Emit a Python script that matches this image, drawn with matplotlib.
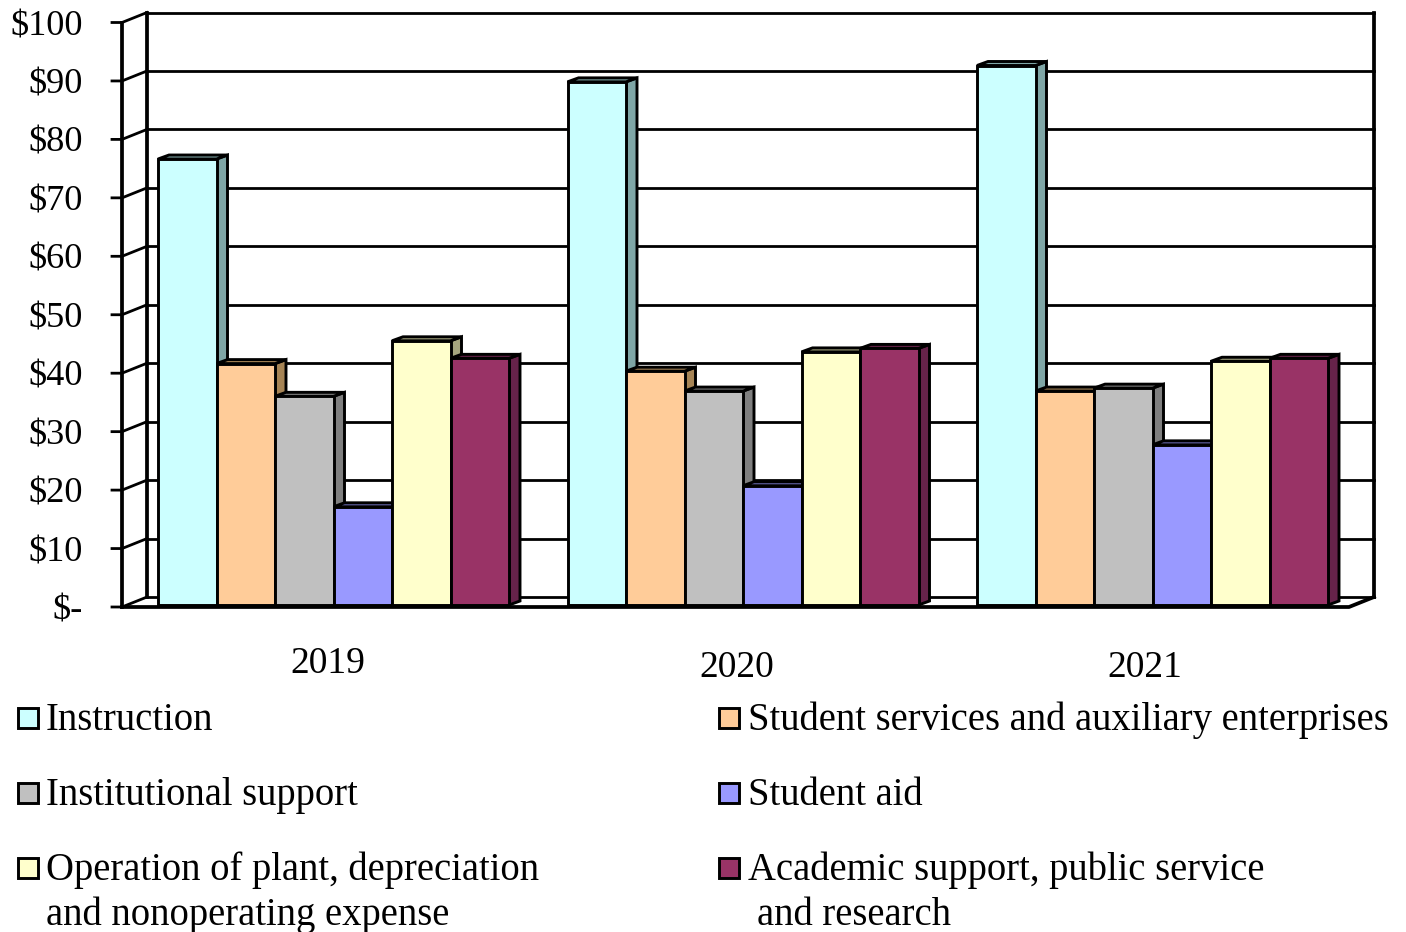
import matplotlib
matplotlib.use('Agg')
import matplotlib.pyplot as plt
from matplotlib.patches import Polygon, Rectangle
from matplotlib.transforms import Affine2D

years = ['2019', '2020', '2021']
categories = ['Instruction', 'Student services and auxiliary enterprises',
	'Institutional support', 'Student aid',
	'Operation of plant, depreciation\nand nonoperating expense',
	'Academic support, public service\n and research']
instruction = [76.3, 89.5, 92.3]
student_services = [41.3, 40.0, 36.6]
institutional = [35.7, 36.6, 37.1]
student_aid = [16.8, 20.4, 27.4]
operation = [45.2, 43.3, 41.7]
academic = [42.2, 43.9, 42.2]
series = [instruction, student_services, institutional, student_aid, operation, academic]
ticks = [0, 10, 20, 30, 40, 50, 60, 70, 80, 90, 100]
tick_labels = ['$-', '$10', '$20', '$30', '$40', '$50', '$60', '$70', '$80', '$90', '$100']

colors = ['#CCFFFF', '#FFCC99', '#C0C0C0', '#9999FF', '#FFFFCC', '#993366']
shades = ['#7FA6A6', '#A68455', '#7F7F7F', '#6666AA', '#A6A67F', '#66234A']

W, H = 1406, 932
PX_X = 409.5  # pixels per group
PX_Y = 5.845  # pixels per dollar
X0, Y0 = 333.5, 605
BAR_W = 58.5 / PX_X
BAR_DX, BAR_DY = 11 / PX_X, 4 / PX_Y
FLOOR = -2 / PX_Y
WALL_DX, WALL_DY = 25 / PX_X, 10 / PX_Y
LEFT = (122 - X0) / PX_X
RIGHT = (1349 - X0) / PX_X

plt.rcParams['font.family'] = ['Liberation Serif', 'DejaVu Serif']
fig = plt.figure(figsize=(W / 100, H / 100), dpi=100)
ax = fig.add_axes([0, 0, 1, 1])
ax.set_xlim(-X0 / PX_X, (W - X0) / PX_X)
ax.set_ylim((Y0 - H) / PX_Y, Y0 / PX_Y)
ax.axis('off')

# text and legend are placed in picture pixels
px = Affine2D().scale(1, -1).translate(0, H)

GRID_LW = 2.0
AXIS_LW = 2.7
BAR_LW = 2.1
top = ticks[-1] + FLOOR

# walls and gridlines
for t, label in zip(ticks, tick_labels):
	y = t + FLOOR
	ax.plot([LEFT - 10 / PX_X, LEFT, LEFT + WALL_DX], [y, y, y + WALL_DY], color='black', lw=GRID_LW, zorder=2)
	ax.plot([LEFT + WALL_DX, RIGHT + WALL_DX], [y + WALL_DY, y + WALL_DY], color='black', lw=GRID_LW, zorder=2)
	ax.text(82.5, Y0 + 2 - t * PX_Y + 12.5, label, transform=px, ha='right', va='baseline', fontsize=26.2)
ax.plot([LEFT, LEFT], [FLOOR, top], color='black', lw=AXIS_LW, zorder=2)
ax.plot([LEFT + WALL_DX, LEFT + WALL_DX], [FLOOR + WALL_DY, top + WALL_DY], color='black', lw=AXIS_LW, zorder=2)
ax.plot([RIGHT + WALL_DX, RIGHT + WALL_DX], [FLOOR + WALL_DY, top + WALL_DY], color='black', lw=AXIS_LW, zorder=2)
ax.plot([LEFT, RIGHT, RIGHT + WALL_DX], [FLOOR, FLOOR, FLOOR + WALL_DY], color='black', lw=AXIS_LW, zorder=2)

# bars, left to right so each one covers the side of the previous one
z = 3
for g in range(len(years)):
	for i, values in enumerate(series):
		v = values[g]
		x0 = g + (i - 3) * BAR_W
		x1 = x0 + BAR_W
		side = [(x1, 0), (x1 + BAR_DX, BAR_DY), (x1 + BAR_DX, v + BAR_DY), (x1, v)]
		cap = [(x0, v), (x0 + BAR_DX, v + BAR_DY), (x1 + BAR_DX, v + BAR_DY), (x1, v)]
		ax.add_patch(Polygon(side, closed=True, facecolor=shades[i], edgecolor='black', lw=BAR_LW, zorder=z))
		ax.add_patch(Polygon(cap, closed=True, facecolor=shades[i], edgecolor='black', lw=BAR_LW, zorder=z))
		ax.bar(x0, v, width=BAR_W, align='edge', color=colors[i], edgecolor='black', lw=BAR_LW, zorder=z + 1)
		z += 2

# category labels
for year, cx, base in zip(years, [328, 737, 1145], [673, 677, 677]):
	ax.text(cx, base, year, transform=px, ha='center', va='baseline', fontsize=27)

# legend
swatch_x = [18, 719]
text_x = [46, 748]
swatch_y = [708, 783, 858]
text_y = [730, 805, 880]
for i, name in enumerate(categories):
	col, row = i % 2, i // 2
	ax.add_patch(Rectangle((swatch_x[col], swatch_y[row]), 20, 20, transform=px, facecolor=colors[i],
		edgecolor='black', lw=2.1, zorder=50, clip_on=False))
	for k, line in enumerate(name.split('\n')):
		shift = 9 if line.startswith(' ') else 0
		ax.text(text_x[col] + shift, text_y[row] + 45 * k, line.strip(), transform=px, ha='left', va='baseline', fontsize=27.8)

fig.savefig('out.png', dpi=100)
